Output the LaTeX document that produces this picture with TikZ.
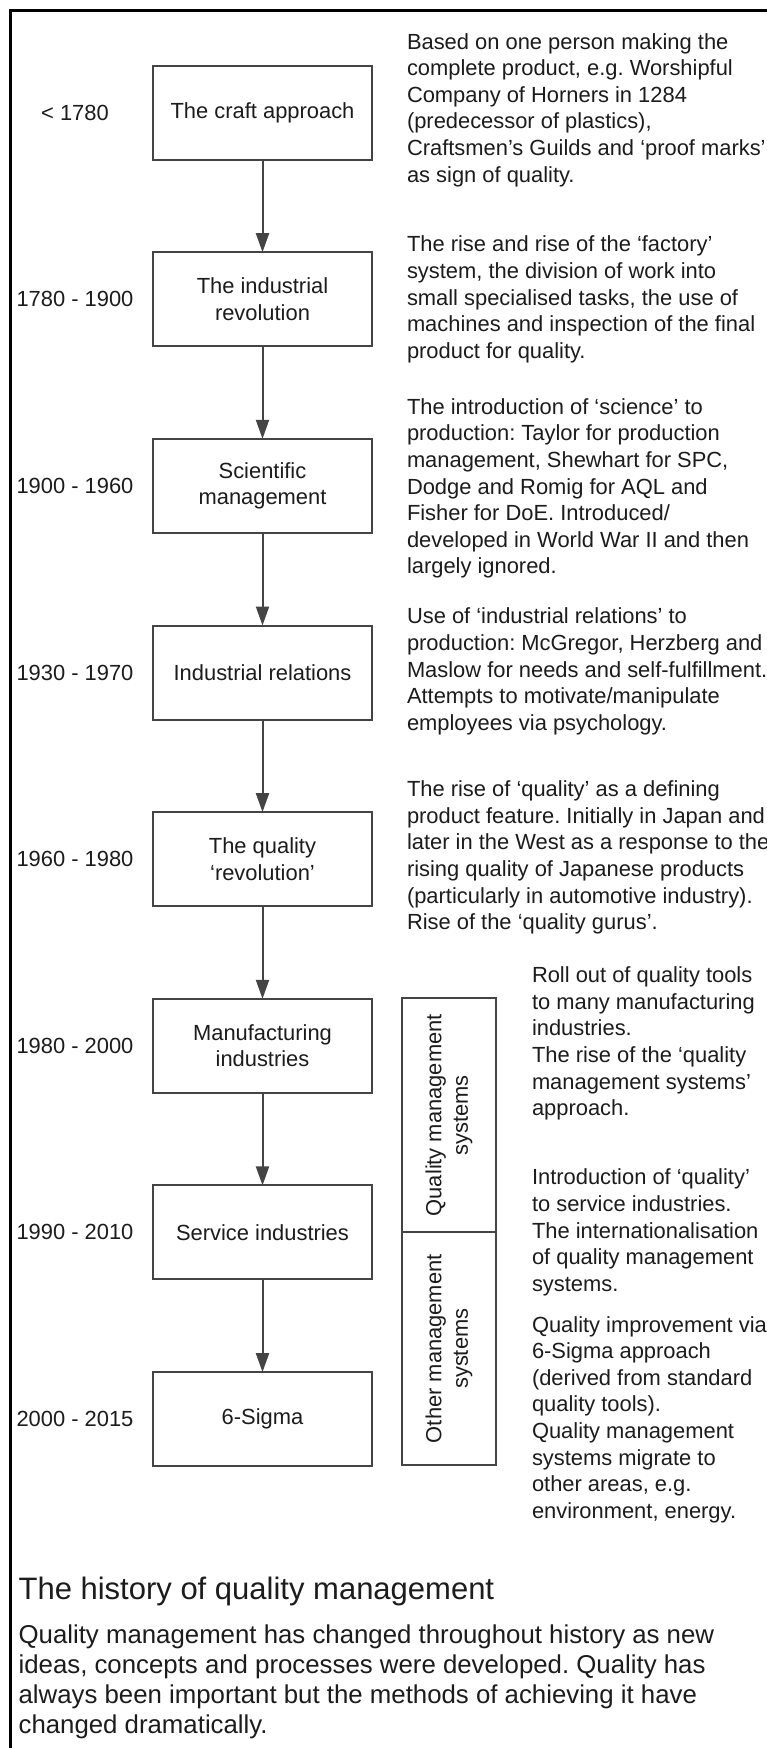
\documentclass[tikz,border=0pt]{standalone}
\usepackage{fontspec}
\setmainfont{Liberation Sans}
\usetikzlibrary{arrows.meta}
\definecolor{ink}{RGB}{28,28,28}
\definecolor{edge}{RGB}{68,68,68}
\frenchspacing
\begin{document}
\begin{tikzpicture}[x=1pt,y=-1pt,
  every node/.style={inner sep=0pt, outer sep=0pt, text=ink},
  body/.style={font=\fontsize{21.9}{26.6}\selectfont},
  stage/.style={body, draw=edge, line width=2pt, minimum width=219pt,
    minimum height=94pt, align=center},
  side/.style={body, draw=edge, line width=2pt, rotate=90,
    minimum height=94pt, align=center},
  year/.style={body},
  note/.style={body, anchor=west, align=left},
  flow/.style={draw=edge, line width=2pt, -{Triangle[width=13pt,length=19pt]}},
  frame/.style={draw=black, line width=3pt}
]
\useasboundingbox (0,0) rectangle (767,1748);
\fill[white] (0,0) rectangle (767,1748);

% open frame along the top and the left edge
\coordinate (fbl) at (10,1748);
\coordinate (ftl) at (10,10);
\coordinate (ftr) at (767,10);
\draw[frame] (fbl) -- (ftl) -- (ftr);

% stages of the timeline
\node[stage] (b1) at (262.5,112.5) {The craft approach};
\node[stage] (b2) at (262.5,299.2) {The industrial\\revolution};
\node[stage] (b3) at (262.5,485.8) {Scientific\\management};
\node[stage] (b4) at (262.5,672.5) {Industrial relations};
\node[stage] (b5) at (262.5,859.1) {The quality\\‘revolution’};
\node[stage] (b6) at (262.5,1045.8) {Manufacturing\\industries};
\node[stage] (b7) at (262.5,1232.4) {Service industries};
\node[stage] (b8) at (262.5,1419.1) {6-Sigma};

\foreach \a/\b in {b1/b2,b2/b3,b3/b4,b4/b5,b5/b6,b6/b7,b7/b8}
  \draw[flow] (\a) -- (\b);

% periods
\node[year] (y1) at (75,112.5) {< 1780};
\node[year] (y2) at (75,299.2) {1780 - 1900};
\node[year] (y3) at (75,485.8) {1900 - 1960};
\node[year] (y4) at (75,672.5) {1930 - 1970};
\node[year] (y5) at (75,859.1) {1960 - 1980};
\node[year] (y6) at (75,1045.8) {1980 - 2000};
\node[year] (y7) at (75,1232.4) {1990 - 2010};
\node[year] (y8) at (75,1419.1) {2000 - 2015};

% management-system bands beside the last three stages
\node[side, minimum width=234.4pt] (qms) at (449,1115.2) {Quality management\\systems};
\node[side, minimum width=232.6pt] (oms) at (449,1348.7) {Other management\\systems};

% descriptions
\node[note] (t1) at (407,110) {Based on one person making the\\complete product, e.g. Worshipful\\Company of Horners in 1284\\(predecessor of plastics),\\Craftsmen's Guilds and ‘proof marks’\\as sign of quality.};
\node[note] (t2) at (407,299.5) {The rise and rise of the ‘factory’\\system, the division of work into\\small specialised tasks, the use of\\machines and inspection of the final\\product for quality.};
\node[note] (t3) at (407,488.5) {The introduction of ‘science’ to\\production: Taylor for production\\management, Shewhart for SPC,\\Dodge and Romig for AQL and\\Fisher for DoE. Introduced/\\developed in World War II and then\\largely ignored.};
\node[note] (t4) at (407,671.5) {Use of ‘industrial relations’ to\\production: McGregor, Herzberg and\\Maslow for needs and self-fulfillment.\\Attempts to motivate/manipulate\\employees via psychology.};
\node[note] (t5) at (407,857.5) {The rise of ‘quality’ as a defining\\product feature. Initially in Japan and\\later in the West as a response to the\\rising quality of Japanese products\\(particularly in automotive industry).\\Rise of the ‘quality gurus’.};
\node[note] (t6) at (532,1043.5) {Roll out of quality tools\\to many manufacturing\\industries.\\The rise of the ‘quality\\management systems’\\approach.};
\node[note] (t7) at (532,1232.5) {Introduction of ‘quality’\\to service industries.\\The internationalisation\\of quality management\\systems.};
\node[note] (t8) at (532,1419.5) {Quality improvement via\\6-Sigma approach\\(derived from standard\\quality tools).\\Quality management\\systems migrate to\\other areas, e.g.\\environment, energy.};

% caption
\node[anchor=base west, font=\fontsize{31}{36}\selectfont] (title) at (18.6,1599) {The history of quality management};
\node[anchor=north west, align=left, font=\fontsize{25.8}{30}\selectfont] (para) at (18.6,1624.5) {Quality management has changed throughout history as new\\ideas, concepts and processes were developed. Quality has\\always been important but the methods of achieving it have\\changed dramatically.};
\end{tikzpicture}
\end{document}
